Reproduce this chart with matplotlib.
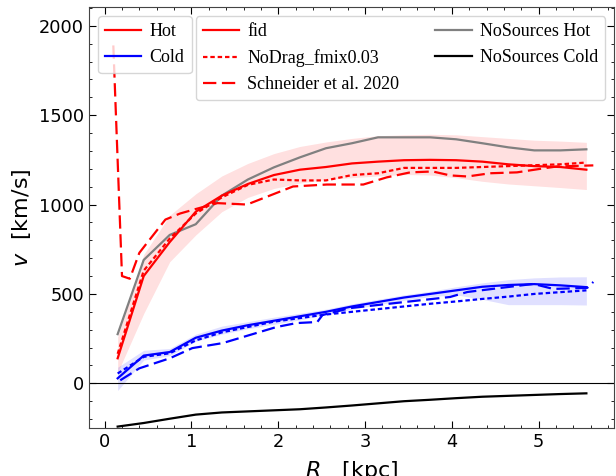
import matplotlib
matplotlib.use("Agg")
import matplotlib.pyplot as plt
import numpy as np
from matplotlib.lines import Line2D
from matplotlib.ticker import MultipleLocator

# radial bins (kpc)
R = [0.15, 0.45, 0.75, 1.05, 1.35, 1.65, 1.95, 2.25, 2.55, 2.85,
     3.15, 3.45, 3.75, 4.05, 4.35, 4.65, 4.95, 5.25, 5.55]

# fid run
fid_hot = [140, 600, 790, 960, 1050, 1115, 1165, 1195, 1210, 1230,
           1240, 1248, 1250, 1248, 1240, 1225, 1215, 1210, 1195]
fid_hot_lo = [60, 390, 680, 830, 960, 1040, 1090, 1120, 1140, 1150,
              1160, 1168, 1165, 1150, 1130, 1115, 1105, 1095, 1084]
fid_hot_hi = [260, 720, 940, 1060, 1160, 1230, 1285, 1325, 1350, 1370,
              1385, 1390, 1393, 1390, 1380, 1370, 1360, 1355, 1348]
fid_cold = [28, 155, 175, 255, 295, 325, 350, 375, 400, 430,
            455, 480, 500, 520, 540, 550, 555, 548, 538]
fid_cold_lo = [-40, 130, 155, 235, 275, 305, 330, 355, 385, 415,
               440, 465, 485, 495, 470, 440, 440, 440, 438]
fid_cold_hi = [90, 185, 195, 275, 320, 345, 370, 392, 415, 445,
               470, 495, 515, 540, 562, 580, 590, 595, 596]

# NoDrag_fmix0.03
nodrag_hot = [165, 630, 810, 950, 1040, 1110, 1140, 1135, 1135, 1165,
              1175, 1205, 1205, 1205, 1210, 1215, 1220, 1225, 1235]
nodrag_cold = [55, 148, 168, 240, 285, 315, 345, 365, 385, 400,
               415, 430, 445, 458, 472, 485, 500, 510, 520]

# NoSources
nosrc_hot = [275, 690, 830, 890, 1050, 1140, 1208, 1264, 1315, 1343,
             1376, 1376, 1376, 1365, 1343, 1320, 1303, 1303, 1309]
nosrc_cold = [-242, -222, -198, -175, -163, -157, -151, -145, -135, -124,
              -112, -100, -92, -83, -75, -70, -65, -60, -56]

# Schneider et al. 2020
R_sch_hot = [0.10, 0.20, 0.29, 0.40, 0.48, 0.70, 0.87, 1.05, 1.30, 1.64,
             2.17, 2.56, 2.98, 3.25, 3.52, 3.78, 3.98, 4.18, 4.44, 4.75,
             5.05, 5.21, 5.63]
sch_hot = [1890, 600, 585, 730, 780, 916, 950, 975, 1008, 1000,
           1101, 1112, 1112, 1152, 1180, 1185, 1163, 1157, 1175, 1180,
           1202, 1213, 1219]
R_sch_cold = [0.18, 0.40, 0.75, 1.01, 1.36, 1.67, 1.98, 2.21, 2.45, 2.51,
              2.83, 3.98, 4.18, 4.94, 5.17, 5.56, 5.63]
sch_cold = [17, 84, 140, 197, 225, 270, 315, 337, 343, 382,
            421, 483, 511, 556, 528, 534, 567]

plt.rcParams["mathtext.fontset"] = "dejavusans"

fig = plt.figure(figsize=(6.16, 4.76), dpi=100)
ax = fig.add_axes([0.1445, 0.1008, 0.8525, 0.8845])

lw = 1.6
dotted = (0, (2, 1.3))
dashed = (0, (6, 2.5))

ax.fill_between(R, fid_hot_lo, fid_hot_hi, color="red", alpha=0.12, lw=0)
ax.fill_between(R, fid_cold_lo, fid_cold_hi, color="blue", alpha=0.12, lw=0)

ax.plot(R, nosrc_hot, color="gray", lw=lw)
ax.plot(R, nosrc_cold, color="black", lw=lw)

ax.plot(R, fid_hot, color="red", lw=lw)
ax.plot(R, fid_cold, color="blue", lw=lw)
ax.plot(R, nodrag_hot, color="red", lw=lw, ls=dotted)
ax.plot(R, nodrag_cold, color="blue", lw=lw, ls=dotted)
ax.plot(R_sch_hot, sch_hot, color="red", lw=lw, ls=dashed)
ax.plot(R_sch_cold, sch_cold, color="blue", lw=lw, ls=dashed)

ax.axhline(0, color="black", lw=0.8)

ax.set_xlim(-0.18, 5.87)
ax.set_ylim(-250, 2105)
ax.xaxis.set_major_locator(MultipleLocator(1))
ax.xaxis.set_minor_locator(MultipleLocator(0.2))
ax.yaxis.set_major_locator(MultipleLocator(500))
ax.yaxis.set_minor_locator(MultipleLocator(100))
ax.tick_params(which="both", direction="in", top=True, right=True, labelsize=12.8)
ax.tick_params(which="major", length=5)
ax.tick_params(which="minor", length=2.5)
for s in ax.spines.values():
    s.set_color("#444444")

ax.set_xlabel("$R$   [kpc]", fontsize=16, labelpad=6)
ax.set_ylabel("$v$  [km/s]", fontsize=16, labelpad=4)

serif = {"family": "Liberation Serif", "size": 13}
h1 = [Line2D([], [], color="red", lw=lw), Line2D([], [], color="blue", lw=lw)]
leg1 = ax.legend(h1, ["Hot", "Cold"], loc="upper left", prop=serif,
                 handlelength=2.0, handletextpad=0.45, borderaxespad=0.5)
ax.add_artist(leg1)

h2 = [Line2D([], [], color="red", lw=lw),
      Line2D([], [], color="red", lw=lw, ls=dotted),
      Line2D([], [], color="red", lw=lw, ls=dashed),
      Line2D([], [], color="gray", lw=lw),
      Line2D([], [], color="black", lw=lw),
      Line2D([], [], alpha=0)]
lab2 = ["fid", "NoDrag_fmix0.03", "Schneider et al. 2020",
        "NoSources Hot", "NoSources Cold", ""]
ax.legend(h2, lab2, loc="upper right", ncol=2, prop=serif,
          handlelength=2.0, handletextpad=0.45, columnspacing=2.0,
          borderaxespad=0.5)

fig.savefig("out.png", dpi=100)
